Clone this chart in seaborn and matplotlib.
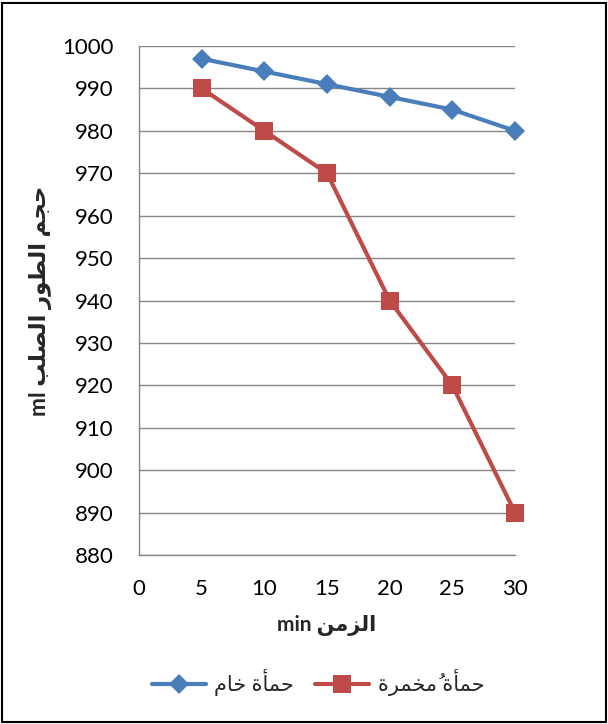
import matplotlib
matplotlib.use("Agg")
import matplotlib.pyplot as plt
import seaborn as sns
import pandas as pd
from matplotlib.patches import Rectangle
from matplotlib.lines import Line2D

# ---------------- data ----------------
time_min = [5, 10, 15, 20, 25, 30]
raw_sludge = [997, 994, 991, 988, 985, 980]
fermented_sludge = [990, 980, 970, 940, 920, 890]
label_raw = "حمأة خام"
label_ferm = "حمأة مُخمرة"
x_label = "الزمن min"
y_label = "حجم الطور الصلب ml"
x_ticks = [0, 5, 10, 15, 20, 25, 30]
y_ticks = [880, 890, 900, 910, 920, 930, 940, 950, 960, 970, 980, 990, 1000]

# ------------- minimal Arabic shaping (matplotlib has no bidi/shaping) -------------
FORMS = {
    "ا": (0xFE8D, 0xFE8E, None, None),
    "أ": (0xFE83, 0xFE84, None, None),
    "ب": (0xFE8F, 0xFE90, 0xFE91, 0xFE92),
    "ة": (0xFE93, 0xFE94, None, None),
    "ج": (0xFE9D, 0xFE9E, 0xFE9F, 0xFEA0),
    "ح": (0xFEA1, 0xFEA2, 0xFEA3, 0xFEA4),
    "خ": (0xFEA5, 0xFEA6, 0xFEA7, 0xFEA8),
    "ر": (0xFEAD, 0xFEAE, None, None),
    "ز": (0xFEAF, 0xFEB0, None, None),
    "ص": (0xFEB9, 0xFEBA, 0xFEBB, 0xFEBC),
    "ط": (0xFEC1, 0xFEC2, 0xFEC3, 0xFEC4),
    "ل": (0xFEDD, 0xFEDE, 0xFEDF, 0xFEE0),
    "م": (0xFEE1, 0xFEE2, 0xFEE3, 0xFEE4),
    "ن": (0xFEE5, 0xFEE6, 0xFEE7, 0xFEE8),
    "و": (0xFEED, 0xFEEE, None, None),
}
MARKS = {"\u064F"}


def _is_arabic(c):
    return c in FORMS or c in MARKS


def shape(text):
    chars = list(text)
    out = []
    for i, c in enumerate(chars):
        if c not in FORMS:
            out.append(c)
            continue
        j = i - 1
        while j >= 0 and chars[j] in MARKS:
            j -= 1
        prev_joins = j >= 0 and chars[j] in FORMS and FORMS[chars[j]][2] is not None
        k = i + 1
        while k < len(chars) and chars[k] in MARKS:
            k += 1
        next_joins = FORMS[c][2] is not None and k < len(chars) and chars[k] in FORMS
        iso, fin, ini, med = FORMS[c]
        if prev_joins and next_joins:
            out.append(chr(med))
        elif prev_joins:
            out.append(chr(fin))
        elif next_joins:
            out.append(chr(ini))
        else:
            out.append(chr(iso))
    return "".join(out)


def visual(text):
    """Convert logical RTL text into visual LTR order for matplotlib."""
    shaped = shape(text)
    runs = []
    cur, cur_ar = "", None
    for lc, sc in zip(text, shaped):
        ar = _is_arabic(lc) or (lc == " " and cur_ar is not False)
        if cur_ar is None or ar == cur_ar:
            cur += sc
            cur_ar = ar if cur_ar is None else cur_ar
        else:
            runs.append((cur, cur_ar))
            cur, cur_ar = sc, ar
    runs.append((cur, cur_ar))
    pieces = []
    for s, ar in reversed(runs):
        if ar:
            clusters = []
            for ch in s:
                if ch in MARKS and clusters:
                    clusters[-1] += ch
                else:
                    clusters.append(ch)
            pieces.append("".join(reversed(clusters)))
        else:
            pieces.append(s)
    return "".join(pieces).strip()


# ---------------- plot ----------------
sns.set_style("white")
plt.rcParams["font.family"] = ["Lato", "DejaVu Sans"]

df = pd.concat([
    pd.DataFrame({"t": time_min, "v": raw_sludge, "s": visual(label_raw)}),
    pd.DataFrame({"t": time_min, "v": fermented_sludge, "s": visual(label_ferm)}),
])

fig = plt.figure(figsize=(6.08, 7.24), dpi=100)
ax = fig.add_axes([139 / 608, 1 - 555 / 724, (515 - 139) / 608, (555 - 46) / 724])

blue = "#4A7EBB"
red = "#BE4B48"
sns.lineplot(data=df, x="t", y="v", hue="s", style="s",
             palette=[blue, red], markers=["D", "s"], dashes=False,
             linewidth=3, markeredgewidth=0, ax=ax, legend=False)
for line, ms in zip(ax.lines, [10.5, 13.5]):
    line.set_markersize(ms)
    line.set_clip_on(False)

ax.set_xlim(0, 30)
ax.set_ylim(880, 1000)
ax.set_xticks(x_ticks)
ax.set_yticks(y_ticks)
ax.tick_params(axis="both", labelsize=16, labelcolor="#000000", color="#868686",
               length=5.5, width=1, direction="out")
ax.tick_params(axis="y", pad=13)
ax.tick_params(axis="x", pad=12)
ax.grid(axis="y", color="#868686", linewidth=1)
ax.grid(axis="x", visible=False)
for side in ["top", "right"]:
    ax.spines[side].set_visible(False)
for side in ["left", "bottom"]:
    ax.spines[side].set_color("#868686")
    ax.spines[side].set_linewidth(1)

ax.set_xlabel(visual(x_label), fontsize=15, fontweight="bold", labelpad=11)
ax.set_ylabel(visual(y_label), fontsize=16.5, fontweight="bold", labelpad=7)

handles = [
    Line2D([], [], color=blue, lw=3, marker="D", markersize=10, markeredgewidth=0),
    Line2D([], [], color=red, lw=3, marker="s", markersize=13, markeredgewidth=0),
]
fig.legend(handles, [visual(label_raw), visual(label_ferm)], loc="center",
           bbox_to_anchor=(0.523, 1 - 683 / 724), ncol=2, frameon=False,
           fontsize=15, handlelength=2.6, columnspacing=1.0, handletextpad=0.4)

fig.patches.append(Rectangle((0.004, 0.003), 0.992, 0.993, transform=fig.transFigure,
                             fill=False, edgecolor="black", linewidth=1.5))

fig.savefig("out.png", dpi=100)
